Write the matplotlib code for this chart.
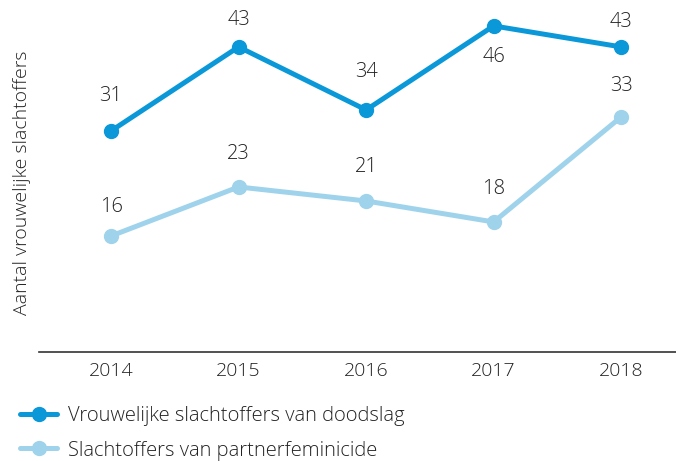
import matplotlib.pyplot as plt
from matplotlib.lines import Line2D

plt.rcParams['font.family'] = ['Open Sans', 'DejaVu Sans']
plt.rcParams['font.weight'] = 'light'

years = [2014, 2015, 2016, 2017, 2018]
doodslag = [31, 43, 34, 46, 43]
partner = [16, 23, 21, 18, 33]

# label offsets in pixels (positive = above the point)
off_dood = [35, 27, 38, -31, 25]
off_partner = [29, 33, 34, 33, 31]

dark = '#0a98d8'
light = '#9fd3eb'
txt = '#222222'

fig = plt.figure(figsize=(6.76, 4.61), dpi=100)
ax = fig.add_axes([39 / 676, 1 - 352 / 461, 1 - 39 / 676, 352 / 461])

ax.plot(years, doodslag, color=dark, lw=3.6, marker='o', ms=10, solid_capstyle='round')
ax.plot(years, partner, color=light, lw=3.6, marker='o', ms=10, solid_capstyle='round')

for x, y, o in zip(years, doodslag, off_dood):
    ax.annotate(str(y), (x, y), xytext=(0, o), textcoords='offset pixels',
                ha='center', va='center', fontsize=14.5, color=txt)
for x, y, o in zip(years, partner, off_partner):
    ax.annotate(str(y), (x, y), xytext=(0, o), textcoords='offset pixels',
                ha='center', va='center', fontsize=14.5, color=txt)

ax.set_xlim(2013.435, 2018.43)
ax.set_ylim(-0.57, 49.7)
ax.set_xticks(years)
ax.set_xticklabels([str(y) for y in years], fontsize=14, color=txt)
ax.set_yticks([])
ax.tick_params(axis='x', length=0, pad=7)
for s in ['top', 'right', 'left']:
    ax.spines[s].set_visible(False)
ax.spines['bottom'].set_color('#333333')
ax.spines['bottom'].set_linewidth(1.2)
ax.set_ylabel('Aantal vrouwelijke slachtoffers', fontsize=14, color=txt, fontweight='light')
ax.yaxis.set_label_coords(-0.012, 0.48)

handles = [
    Line2D([], [], color=dark, lw=3.6, marker='o', ms=10, solid_capstyle='round'),
    Line2D([], [], color=light, lw=3.6, marker='o', ms=10, solid_capstyle='round'),
]
labels = ['Vrouwelijke slachtoffers van doodslag', 'Slachtoffers van partnerfeminicide']
fig.legend(handles, labels, loc='upper left', bbox_to_anchor=(20 / 676, 1 - 406 / 461),
           frameon=False, handlelength=1.85, handletextpad=0.55,
           labelspacing=0.72, borderpad=0, borderaxespad=0,
           prop={'size': 14.5, 'weight': 'light'}, labelcolor=txt)

fig.savefig('out.png', dpi=100)
